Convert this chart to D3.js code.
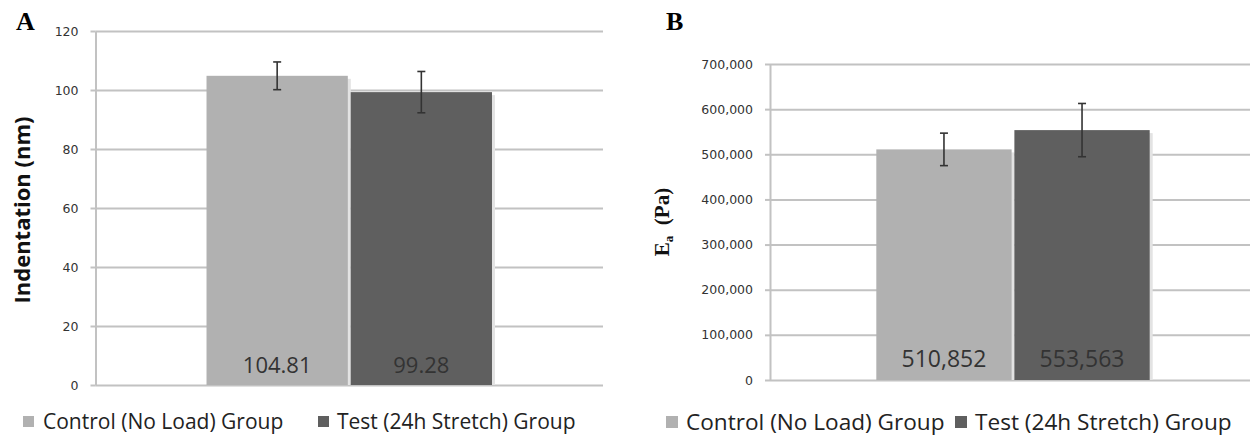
<!DOCTYPE html>
<html>
<head>
<meta charset="utf-8">
<script src="https://cdn.jsdelivr.net/npm/d3@7"></script>
<style>
  body { margin: 0; background: #fff; }
  svg { display: block; }
</style>
</head>
<body>
<div id="chart-area"></div>
<script>
// data
const series = ["Control (No Load) Group", "Test (24h Stretch) Group"];
const colours = ["#b1b1b1", "#5f5f5f"];

const indentation = [104.81, 99.28];
const indentationErr = [4.7, 7.0];
const indentationTicks = [0, 20, 40, 60, 80, 100, 120];

const modulus = [510852, 553563];
const modulusErr = [36000, 59000];
const modulusTicks = [0, 100000, 200000, 300000, 400000, 500000, 600000, 700000];

const svg = d3.select("#chart-area")
  .append("svg")
  .attr("width", 1250)
  .attr("height", 437);

svg.append("rect").attr("width", 1250).attr("height", 437).attr("fill", "#fff");

const grid_colour = "#c2c2c2";

function panel(p) {
  const w = p.right - p.left, h = p.bottom - p.top;
  const g = svg.append("g")
    .attr("transform", "translate(" + p.left + "," + p.top + ")");

  const x = d3.scaleBand()
    .domain(series)
    .range([0, w])
    .paddingInner(0.02)
    .paddingOuter(0.77);
  const y = d3.scaleLinear()
    .domain([0, p.max])
    .range([h, 0]);

  // grid lines
  const grid = g.append("g")
    .call(d3.axisLeft(y).tickValues(p.ticks).tickSize(-w).tickFormat(""));
  grid.select(".domain").remove();
  grid.selectAll("line").attr("stroke", grid_colour).attr("stroke-width", 2);

  // axis
  const axis = g.append("g")
    .call(d3.axisLeft(y).tickValues(p.ticks).tickSize(5).tickSizeOuter(0)
      .tickPadding(12).tickFormat(p.format));
  axis.select(".domain").attr("stroke", grid_colour).attr("stroke-width", 2);
  axis.selectAll("line").attr("stroke", grid_colour).attr("stroke-width", 2);
  axis.selectAll("text")
    .attr("font-family", "DejaVu Sans")
    .attr("font-size", "12.5px")
    .attr("fill", "#333");

  const data = series.map((s, i) => ({s: s, v: p.values[i], e: p.errors[i], c: colours[i]}));

  // bar shadow
  g.selectAll(".shadow")
    .data(data)
    .enter().append("rect")
      .attr("class", "shadow")
      .attr("x", d => x(d.s) + 3)
      .attr("y", d => y(d.v) + 3)
      .attr("width", x.bandwidth())
      .attr("height", d => h - y(d.v) - 3)
      .attr("fill", "#e3e3e3");

  g.selectAll(".bar")
    .data(data)
    .enter().append("rect")
      .attr("class", "bar")
      .attr("x", d => x(d.s))
      .attr("y", d => y(d.v))
      .attr("width", x.bandwidth())
      .attr("height", d => h - y(d.v))
      .attr("fill", d => d.c);

  // error bars
  const eb = g.selectAll(".err")
    .data(data)
    .enter().append("g")
      .attr("class", "err")
      .attr("stroke", "#333")
      .attr("stroke-width", 1.6);
  eb.append("line")
    .attr("x1", d => x(d.s) + x.bandwidth() / 2)
    .attr("x2", d => x(d.s) + x.bandwidth() / 2)
    .attr("y1", d => y(d.v + d.e))
    .attr("y2", d => y(d.v - d.e));
  eb.append("line")
    .attr("x1", d => x(d.s) + x.bandwidth() / 2 - 4)
    .attr("x2", d => x(d.s) + x.bandwidth() / 2 + 4)
    .attr("y1", d => y(d.v + d.e))
    .attr("y2", d => y(d.v + d.e));
  eb.append("line")
    .attr("x1", d => x(d.s) + x.bandwidth() / 2 - 4)
    .attr("x2", d => x(d.s) + x.bandwidth() / 2 + 4)
    .attr("y1", d => y(d.v - d.e))
    .attr("y2", d => y(d.v - d.e));

  // value labels
  g.selectAll(".val")
    .data(data)
    .enter().append("text")
      .attr("class", "val")
      .attr("x", d => x(d.s) + x.bandwidth() / 2)
      .attr("y", h - p.valOffset)
      .attr("text-anchor", "middle")
      .attr("font-family", "Open Sans")
      .attr("font-size", p.valSize)
      .attr("fill", "#333")
      .text(d => p.valFormat(d.v));

  return {g: g, x: x, y: y};
}

// Panel A
panel({left: 95.5, right: 603, top: 31, bottom: 385, max: 120,
  ticks: indentationTicks, format: d3.format("d"),
  values: indentation, errors: indentationErr,
  valOffset: 12, valSize: "22px", valFormat: d3.format(".2f")});

// Panel B
panel({left: 770, right: 1256, top: 64, bottom: 380, max: 700000,
  ticks: modulusTicks, format: d3.format(","),
  values: modulus, errors: modulusErr,
  valOffset: 13, valSize: "23px", valFormat: d3.format(",")});

// Panel letters
svg.append("text").attr("x", 16).attr("y", 30)
  .attr("font-family", "Liberation Serif").attr("font-weight", "bold")
  .attr("font-size", "26px").text("A");
svg.append("text").attr("x", 666).attr("y", 30)
  .attr("font-family", "Liberation Serif").attr("font-weight", "bold")
  .attr("font-size", "26px").text("B");

// y labels
svg.append("text")
  .attr("transform", "translate(30,210) rotate(-90)")
  .attr("text-anchor", "middle")
  .attr("font-family", "Open Sans")
  .attr("font-weight", "bold")
  .attr("font-size", "22px")
  .attr("fill", "#111")
  .text("Indentation (nm)");

const yb = svg.append("text")
  .attr("transform", "translate(669,222) rotate(-90)")
  .attr("text-anchor", "middle")
  .attr("font-family", "Liberation Serif")
  .attr("font-weight", "bold")
  .attr("font-size", "21px")
  .attr("fill", "#111");
yb.append("tspan").text("E");
yb.append("tspan").attr("font-size", "13px").attr("dy", 4).text("a");
yb.append("tspan").attr("dy", -4).text("\u00a0 (Pa)");

// legends
function legend(items) {
  items.forEach((it, i) => {
    svg.append("rect")
      .attr("x", it.x).attr("y", it.y - it.box - 2)
      .attr("width", it.box).attr("height", it.box)
      .attr("fill", colours[i]);
    svg.append("text")
      .attr("x", it.tx).attr("y", it.y)
      .attr("font-family", "Open Sans")
      .attr("font-size", it.size)
      .attr("fill", "#222")
      .text(series[i]);
  });
}
legend([
  {x: 23, tx: 43, y: 429, box: 11, size: "21px"},
  {x: 318, tx: 337, y: 429, box: 11, size: "21px"}
]);
legend([
  {x: 666, tx: 686, y: 430, box: 12, size: "22.6px"},
  {x: 955, tx: 975, y: 430, box: 12, size: "22.6px"}
]);
</script>
</body>
</html>
